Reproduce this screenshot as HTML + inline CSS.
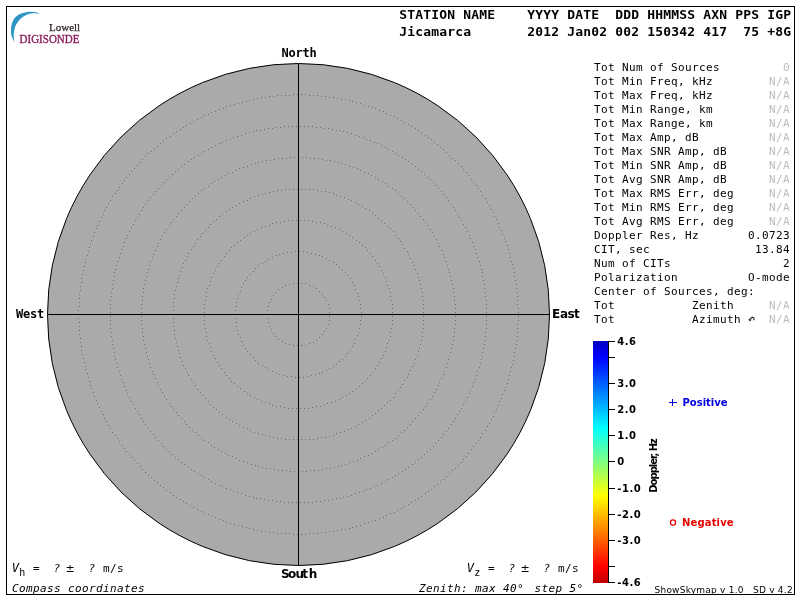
<!DOCTYPE html>
<html><head><meta charset="utf-8"><title>Skymap</title>
<style>
html,body{margin:0;padding:0;background:#fff;}
svg{display:block}
text{white-space:pre}
.mono{font-family:"DejaVu Sans Mono","Liberation Mono",monospace;font-size:11px;letter-spacing:0.378px;fill:#000}
.hdr{font-family:"DejaVu Sans Mono","Liberation Mono",monospace;font-weight:bold;font-size:13px;letter-spacing:0.174px;fill:#000}
.g{fill:#bcbcbc}
.it{font-style:italic}
.pm{font-family:"DejaVu Sans","Liberation Sans",sans-serif;letter-spacing:0}
.cmp{font-family:"DejaVu Sans Mono","Liberation Mono",monospace;font-weight:bold;font-size:12px;letter-spacing:-0.22px;fill:#000}
.cmps{font-family:"DejaVu Sans","Liberation Sans",sans-serif;font-weight:bold;font-size:12px;fill:#000}
.tk text{font-family:"DejaVu Sans","Liberation Sans",sans-serif;font-weight:bold;font-size:10px;fill:#000;letter-spacing:0.5px}
.tk line{stroke:#000;stroke-width:1}
.lg{font-family:"DejaVu Sans","Liberation Sans",sans-serif;font-weight:bold;font-size:10px}
.ver{font-family:"DejaVu Sans","Liberation Sans",sans-serif;font-size:9px;fill:#000;letter-spacing:0.23px}
.logo{font-family:"Liberation Serif",serif;font-size:11px}
</style></head>
<body>
<svg width="800" height="600" viewBox="0 0 800 600">
<defs>
<linearGradient id="jet" x1="0" y1="0" x2="0" y2="1">
<stop offset="0" stop-color="#0000c0"/>
<stop offset="0.066" stop-color="#0000ff"/>
<stop offset="0.36" stop-color="#00ffff"/>
<stop offset="0.5" stop-color="#80ff80"/>
<stop offset="0.64" stop-color="#ffff00"/>
<stop offset="0.934" stop-color="#ff0000"/>
<stop offset="1" stop-color="#c00000"/>
</linearGradient>
</defs>
<rect x="0" y="0" width="800" height="600" fill="#fff"/>
<rect x="6.5" y="6.5" width="788" height="588" fill="none" stroke="#000" stroke-width="1" shape-rendering="crispEdges"/>

<!-- logo -->
<path d="M14.3,42.5 C13.9,41.4 12.2,38.1 11.6,36.0 C11.0,33.9 10.9,32.1 11.0,30.0 C11.1,27.9 11.3,25.4 12.0,23.3 C12.7,21.2 13.9,18.9 15.3,17.3 C16.8,15.7 18.7,14.6 20.7,13.7 C22.7,12.8 25.0,12.2 27.3,11.9 C29.6,11.6 32.7,11.8 34.7,12.1 C36.7,12.4 38.5,13.4 39.2,13.7 C38.1,13.6 34.8,13.0 32.7,13.2 C30.6,13.4 28.6,13.9 26.7,14.7 C24.8,15.5 22.9,16.7 21.3,18.0 C19.7,19.3 18.4,21.0 17.3,22.7 C16.2,24.4 15.3,26.0 14.7,28.0 C14.1,30.0 13.8,32.3 13.7,34.7 C13.6,37.1 14.2,41.2 14.3,42.5 Z" fill="#2f95c4"/>
<text class="logo" x="49" y="30.5" fill="#33252f" stroke="#33252f" stroke-width="0.25">Lowell</text>
<text class="logo" transform="translate(19.6,43.3) scale(1,1.1)" fill="#8c2360" stroke="#8c2360" stroke-width="0.35">DIGISONDE</text>

<!-- header -->
<text class="hdr" x="399.3" y="19">STATION NAME    YYYY DATE  DDD HHMMSS AXN PPS IGP</text>
<text class="hdr" x="399.3" y="35.5">Jicamarca       2012 Jan02 002 150342 417  75 +8G</text>

<!-- sky map -->
<circle cx="298.5" cy="314.5" r="251" fill="#aaaaaa" stroke="#000" stroke-width="1"/>
<g fill="none" stroke="#6c6c6c" stroke-width="1" shape-rendering="crispEdges"><path d="M329 312.5h1M329 308.5h1M328 304.5h1M326 300.5h1M324 297.5h1M322 294.5h1M319 291.5h1M316 288.5h1M313 286.5h1M309 285.5h1M305 283.5h1M301 283.5h1M297 283.5h1M293 283.5h1M289 284.5h1M285 285.5h1M282 287.5h1M278 289.5h1M275 292.5h1M273 295.5h1M271 299.5h1M269 302.5h1M268 306.5h1M267 310.5h1M267 314.5h1M267 318.5h1M268 322.5h1M269 326.5h1M271 329.5h1M273 333.5h1M275 336.5h1M278 339.5h1M282 341.5h1M285 343.5h1M289 344.5h1M293 345.5h1M297 345.5h1M301 345.5h1M305 345.5h1M309 343.5h1M313 342.5h1M316 340.5h1M319 337.5h1M322 334.5h1M324 331.5h1M326 328.5h1M328 324.5h1M329 320.5h1M329 316.5h1M361 312.5h1M360 308.5h1M360 304.5h1M359 300.5h1M358 296.5h1M357 293.5h1M355 289.5h1M354 285.5h1M352 282.5h1M350 278.5h1M347 275.5h1M345 272.5h1M342 269.5h1M339 267.5h1M336 264.5h1M333 262.5h1M329 260.5h1M326 258.5h1M322 256.5h1M319 255.5h1M315 254.5h1M311 253.5h1M307 252.5h1M303 251.5h1M299 251.5h1M295 251.5h1M291 252.5h1M287 252.5h1M283 253.5h1M279 254.5h1M276 255.5h1M272 257.5h1M268 259.5h1M265 261.5h1M262 263.5h1M258 265.5h1M255 268.5h1M253 271.5h1M250 274.5h1M247 277.5h1M245 280.5h1M243 283.5h1M241 287.5h1M240 291.5h1M238 294.5h1M237 298.5h1M236 302.5h1M236 306.5h1M235 310.5h1M235 314.5h1M235 318.5h1M236 322.5h1M236 326.5h1M237 330.5h1M238 334.5h1M240 337.5h1M241 341.5h1M243 345.5h1M245 348.5h1M247 351.5h1M250 354.5h1M253 357.5h1M255 360.5h1M258 363.5h1M262 365.5h1M265 367.5h1M268 369.5h1M272 371.5h1M276 373.5h1M279 374.5h1M283 375.5h1M287 376.5h1M291 376.5h1M295 377.5h1M299 377.5h1M303 377.5h1M307 376.5h1M311 375.5h1M315 374.5h1M319 373.5h1M322 372.5h1M326 370.5h1M329 368.5h1M333 366.5h1M336 364.5h1M339 361.5h1M342 359.5h1M345 356.5h1M347 353.5h1M350 350.5h1M352 346.5h1M354 343.5h1M355 339.5h1M357 335.5h1M358 332.5h1M359 328.5h1M360 324.5h1M360 320.5h1M361 316.5h1M392 312.5h1M392 308.5h1M392 304.5h1M391 300.5h1M390 296.5h1M390 292.5h1M389 288.5h1M387 285.5h1M386 281.5h1M385 277.5h1M383 273.5h1M381 270.5h1M379 266.5h1M377 263.5h1M375 260.5h1M372 256.5h1M370 253.5h1M367 250.5h1M365 247.5h1M362 245.5h1M359 242.5h1M356 240.5h1M352 237.5h1M349 235.5h1M346 233.5h1M342 231.5h1M339 229.5h1M335 227.5h1M331 226.5h1M327 225.5h1M324 223.5h1M320 222.5h1M316 222.5h1M312 221.5h1M308 220.5h1M304 220.5h1M300 220.5h1M296 220.5h1M292 220.5h1M288 220.5h1M284 221.5h1M280 222.5h1M276 222.5h1M272 223.5h1M269 225.5h1M265 226.5h1M261 227.5h1M257 229.5h1M254 231.5h1M250 233.5h1M247 235.5h1M244 237.5h1M240 240.5h1M237 242.5h1M234 245.5h1M231 247.5h1M229 250.5h1M226 253.5h1M224 256.5h1M221 260.5h1M219 263.5h1M217 266.5h1M215 270.5h1M213 273.5h1M211 277.5h1M210 281.5h1M209 285.5h1M207 288.5h1M206 292.5h1M206 296.5h1M205 300.5h1M204 304.5h1M204 308.5h1M204 312.5h1M204 316.5h1M204 320.5h1M204 324.5h1M205 328.5h1M206 332.5h1M206 336.5h1M207 340.5h1M209 343.5h1M210 347.5h1M211 351.5h1M213 355.5h1M215 358.5h1M217 362.5h1M219 365.5h1M221 368.5h1M224 372.5h1M226 375.5h1M229 378.5h1M231 381.5h1M234 383.5h1M237 386.5h1M240 388.5h1M244 391.5h1M247 393.5h1M250 395.5h1M254 397.5h1M257 399.5h1M261 401.5h1M265 402.5h1M269 403.5h1M272 405.5h1M276 406.5h1M280 406.5h1M284 407.5h1M288 408.5h1M292 408.5h1M296 408.5h1M300 408.5h1M304 408.5h1M308 408.5h1M312 407.5h1M316 406.5h1M320 406.5h1M324 405.5h1M327 403.5h1M331 402.5h1M335 401.5h1M339 399.5h1M342 397.5h1M346 395.5h1M349 393.5h1M352 391.5h1M356 388.5h1M359 386.5h1M362 383.5h1M365 381.5h1M367 378.5h1M370 375.5h1M372 372.5h1M375 368.5h1M377 365.5h1M379 362.5h1M381 358.5h1M383 355.5h1M385 351.5h1M386 347.5h1M387 343.5h1M389 340.5h1M390 336.5h1M390 332.5h1M391 328.5h1M392 324.5h1M392 320.5h1M392 316.5h1M423 312.5h1M423 308.5h1M423 304.5h1M423 300.5h1M422 296.5h1M422 292.5h1M421 288.5h1M420 284.5h1M419 280.5h1M418 277.5h1M417 273.5h1M415 269.5h1M414 265.5h1M412 262.5h1M410 258.5h1M408 254.5h1M407 251.5h1M404 248.5h1M402 244.5h1M400 241.5h1M398 238.5h1M395 235.5h1M393 231.5h1M390 228.5h1M387 226.5h1M384 223.5h1M381 220.5h1M378 218.5h1M375 215.5h1M372 213.5h1M369 210.5h1M365 208.5h1M362 206.5h1M358 204.5h1M355 202.5h1M351 200.5h1M348 199.5h1M344 197.5h1M340 196.5h1M336 195.5h1M333 193.5h1M329 192.5h1M325 191.5h1M321 191.5h1M317 190.5h1M313 189.5h1M309 189.5h1M305 189.5h1M301 189.5h1M297 189.5h1M293 189.5h1M289 189.5h1M285 189.5h1M281 190.5h1M277 190.5h1M273 191.5h1M269 192.5h1M265 193.5h1M262 194.5h1M258 195.5h1M254 196.5h1M250 198.5h1M247 200.5h1M243 201.5h1M239 203.5h1M236 205.5h1M232 207.5h1M229 209.5h1M226 211.5h1M222 214.5h1M219 216.5h1M216 219.5h1M213 221.5h1M210 224.5h1M208 227.5h1M205 230.5h1M202 233.5h1M200 236.5h1M197 239.5h1M195 243.5h1M193 246.5h1M191 249.5h1M188 253.5h1M187 256.5h1M185 260.5h1M183 263.5h1M182 267.5h1M180 271.5h1M179 275.5h1M178 278.5h1M177 282.5h1M176 286.5h1M175 290.5h1M174 294.5h1M174 298.5h1M173 302.5h1M173 306.5h1M173 310.5h1M173 314.5h1M173 318.5h1M173 322.5h1M173 326.5h1M174 330.5h1M174 334.5h1M175 338.5h1M176 342.5h1M177 346.5h1M178 350.5h1M179 353.5h1M180 357.5h1M182 361.5h1M183 365.5h1M185 368.5h1M187 372.5h1M188 375.5h1M191 379.5h1M193 382.5h1M195 385.5h1M197 389.5h1M200 392.5h1M202 395.5h1M205 398.5h1M208 401.5h1M210 404.5h1M213 407.5h1M216 409.5h1M219 412.5h1M222 414.5h1M226 417.5h1M229 419.5h1M232 421.5h1M236 423.5h1M239 425.5h1M243 427.5h1M247 428.5h1M250 430.5h1M254 432.5h1M258 433.5h1M262 434.5h1M265 435.5h1M269 436.5h1M273 437.5h1M277 438.5h1M281 438.5h1M285 439.5h1M289 439.5h1M293 439.5h1M297 439.5h1M301 439.5h1M305 439.5h1M309 439.5h1M313 439.5h1M317 438.5h1M321 437.5h1M325 437.5h1M329 436.5h1M333 435.5h1M336 433.5h1M340 432.5h1M344 431.5h1M348 429.5h1M351 428.5h1M355 426.5h1M358 424.5h1M362 422.5h1M365 420.5h1M369 418.5h1M372 415.5h1M375 413.5h1M378 410.5h1M381 408.5h1M384 405.5h1M387 402.5h1M390 400.5h1M393 397.5h1M395 393.5h1M398 390.5h1M400 387.5h1M402 384.5h1M404 380.5h1M407 377.5h1M408 374.5h1M410 370.5h1M412 366.5h1M414 363.5h1M415 359.5h1M417 355.5h1M418 351.5h1M419 348.5h1M420 344.5h1M421 340.5h1M422 336.5h1M422 332.5h1M423 328.5h1M423 324.5h1M423 320.5h1M423 316.5h1M455 312.5h1M455 308.5h1M455 304.5h1M454 300.5h1M454 296.5h1M453 292.5h1M453 288.5h1M452 284.5h1M451 280.5h1M450 276.5h1M449 272.5h1M448 269.5h1M447 265.5h1M446 261.5h1M444 257.5h1M443 254.5h1M441 250.5h1M439 246.5h1M438 243.5h1M436 239.5h1M434 236.5h1M432 232.5h1M430 229.5h1M427 225.5h1M425 222.5h1M423 219.5h1M420 216.5h1M418 213.5h1M415 210.5h1M412 207.5h1M410 204.5h1M407 201.5h1M404 198.5h1M401 196.5h1M398 193.5h1M395 190.5h1M392 188.5h1M388 186.5h1M385 183.5h1M382 181.5h1M378 179.5h1M375 177.5h1M371 175.5h1M368 173.5h1M364 172.5h1M360 170.5h1M357 168.5h1M353 167.5h1M349 166.5h1M345 164.5h1M341 163.5h1M338 162.5h1M334 161.5h1M330 160.5h1M326 160.5h1M322 159.5h1M318 158.5h1M314 158.5h1M310 158.5h1M306 157.5h1M302 157.5h1M298 157.5h1M294 157.5h1M290 157.5h1M286 158.5h1M282 158.5h1M278 158.5h1M274 159.5h1M270 160.5h1M266 160.5h1M262 161.5h1M258 162.5h1M255 163.5h1M251 164.5h1M247 166.5h1M243 167.5h1M239 168.5h1M236 170.5h1M232 172.5h1M228 173.5h1M225 175.5h1M221 177.5h1M218 179.5h1M214 181.5h1M211 183.5h1M208 186.5h1M204 188.5h1M201 190.5h1M198 193.5h1M195 196.5h1M192 198.5h1M189 201.5h1M186 204.5h1M184 207.5h1M181 210.5h1M178 213.5h1M176 216.5h1M173 219.5h1M171 222.5h1M169 225.5h1M166 229.5h1M164 232.5h1M162 236.5h1M160 239.5h1M158 243.5h1M157 246.5h1M155 250.5h1M153 254.5h1M152 257.5h1M150 261.5h1M149 265.5h1M148 269.5h1M147 272.5h1M146 276.5h1M145 280.5h1M144 284.5h1M143 288.5h1M143 292.5h1M142 296.5h1M142 300.5h1M141 304.5h1M141 308.5h1M141 312.5h1M141 316.5h1M141 320.5h1M141 324.5h1M142 328.5h1M142 332.5h1M143 336.5h1M143 340.5h1M144 344.5h1M145 348.5h1M146 352.5h1M147 356.5h1M148 359.5h1M149 363.5h1M150 367.5h1M152 371.5h1M153 374.5h1M155 378.5h1M157 382.5h1M158 385.5h1M160 389.5h1M162 392.5h1M164 396.5h1M166 399.5h1M169 403.5h1M171 406.5h1M173 409.5h1M176 412.5h1M178 415.5h1M181 418.5h1M184 421.5h1M186 424.5h1M189 427.5h1M192 430.5h1M195 432.5h1M198 435.5h1M201 438.5h1M204 440.5h1M208 442.5h1M211 445.5h1M214 447.5h1M218 449.5h1M221 451.5h1M225 453.5h1M228 455.5h1M232 456.5h1M236 458.5h1M239 460.5h1M243 461.5h1M247 462.5h1M251 464.5h1M255 465.5h1M258 466.5h1M262 467.5h1M266 468.5h1M270 468.5h1M274 469.5h1M278 470.5h1M282 470.5h1M286 470.5h1M290 471.5h1M294 471.5h1M298 471.5h1M302 471.5h1M306 471.5h1M310 470.5h1M314 470.5h1M318 470.5h1M322 469.5h1M326 468.5h1M330 468.5h1M334 467.5h1M338 466.5h1M341 465.5h1M345 464.5h1M349 462.5h1M353 461.5h1M357 460.5h1M360 458.5h1M364 456.5h1M368 455.5h1M371 453.5h1M375 451.5h1M378 449.5h1M382 447.5h1M385 445.5h1M388 442.5h1M392 440.5h1M395 438.5h1M398 435.5h1M401 432.5h1M404 430.5h1M407 427.5h1M410 424.5h1M412 421.5h1M415 418.5h1M418 415.5h1M420 412.5h1M423 409.5h1M425 406.5h1M427 403.5h1M430 399.5h1M432 396.5h1M434 392.5h1M436 389.5h1M438 385.5h1M439 382.5h1M441 378.5h1M443 374.5h1M444 371.5h1M446 367.5h1M447 363.5h1M448 359.5h1M449 356.5h1M450 352.5h1M451 348.5h1M452 344.5h1M453 340.5h1M453 336.5h1M454 332.5h1M454 328.5h1M455 324.5h1M455 320.5h1M455 316.5h1M486 312.5h1M486 308.5h1M486 304.5h1M486 300.5h1M485 296.5h1M485 292.5h1M484 288.5h1M484 284.5h1M483 280.5h1M482 276.5h1M482 272.5h1M481 269.5h1M480 265.5h1M479 261.5h1M477 257.5h1M476 253.5h1M475 249.5h1M473 246.5h1M472 242.5h1M470 238.5h1M469 235.5h1M467 231.5h1M465 227.5h1M463 224.5h1M461 220.5h1M459 217.5h1M457 214.5h1M455 210.5h1M453 207.5h1M451 204.5h1M448 200.5h1M446 197.5h1M443 194.5h1M441 191.5h1M438 188.5h1M435 185.5h1M433 182.5h1M430 179.5h1M427 177.5h1M424 174.5h1M421 171.5h1M418 169.5h1M415 166.5h1M412 164.5h1M408 161.5h1M405 159.5h1M402 157.5h1M398 155.5h1M395 153.5h1M392 151.5h1M388 149.5h1M385 147.5h1M381 145.5h1M377 143.5h1M374 142.5h1M370 140.5h1M366 139.5h1M363 137.5h1M359 136.5h1M355 135.5h1M351 133.5h1M347 132.5h1M343 131.5h1M340 130.5h1M336 130.5h1M332 129.5h1M328 128.5h1M324 128.5h1M320 127.5h1M316 127.5h1M312 126.5h1M308 126.5h1M304 126.5h1M300 126.5h1M296 126.5h1M292 126.5h1M288 126.5h1M284 126.5h1M280 127.5h1M276 127.5h1M272 128.5h1M268 128.5h1M264 129.5h1M260 130.5h1M256 130.5h1M253 131.5h1M249 132.5h1M245 133.5h1M241 135.5h1M237 136.5h1M233 137.5h1M230 139.5h1M226 140.5h1M222 142.5h1M219 143.5h1M215 145.5h1M211 147.5h1M208 149.5h1M204 151.5h1M201 153.5h1M198 155.5h1M194 157.5h1M191 159.5h1M188 161.5h1M184 164.5h1M181 166.5h1M178 169.5h1M175 171.5h1M172 174.5h1M169 177.5h1M166 179.5h1M163 182.5h1M161 185.5h1M158 188.5h1M155 191.5h1M153 194.5h1M150 197.5h1M148 200.5h1M145 204.5h1M143 207.5h1M141 210.5h1M139 214.5h1M137 217.5h1M135 220.5h1M133 224.5h1M131 227.5h1M129 231.5h1M127 235.5h1M126 238.5h1M124 242.5h1M123 246.5h1M121 249.5h1M120 253.5h1M119 257.5h1M117 261.5h1M116 265.5h1M115 269.5h1M114 272.5h1M114 276.5h1M113 280.5h1M112 284.5h1M112 288.5h1M111 292.5h1M111 296.5h1M110 300.5h1M110 304.5h1M110 308.5h1M110 312.5h1M110 316.5h1M110 320.5h1M110 324.5h1M110 328.5h1M111 332.5h1M111 336.5h1M112 340.5h1M112 344.5h1M113 348.5h1M114 352.5h1M114 356.5h1M115 359.5h1M116 363.5h1M117 367.5h1M119 371.5h1M120 375.5h1M121 379.5h1M123 382.5h1M124 386.5h1M126 390.5h1M127 393.5h1M129 397.5h1M131 401.5h1M133 404.5h1M135 408.5h1M137 411.5h1M139 414.5h1M141 418.5h1M143 421.5h1M145 424.5h1M148 428.5h1M150 431.5h1M153 434.5h1M155 437.5h1M158 440.5h1M161 443.5h1M163 446.5h1M166 449.5h1M169 451.5h1M172 454.5h1M175 457.5h1M178 459.5h1M181 462.5h1M184 464.5h1M188 467.5h1M191 469.5h1M194 471.5h1M198 473.5h1M201 475.5h1M204 477.5h1M208 479.5h1M211 481.5h1M215 483.5h1M219 485.5h1M222 486.5h1M226 488.5h1M230 489.5h1M233 491.5h1M237 492.5h1M241 493.5h1M245 495.5h1M249 496.5h1M253 497.5h1M256 498.5h1M260 498.5h1M264 499.5h1M268 500.5h1M272 500.5h1M276 501.5h1M280 501.5h1M284 502.5h1M288 502.5h1M292 502.5h1M296 502.5h1M300 502.5h1M304 502.5h1M308 502.5h1M312 502.5h1M316 501.5h1M320 501.5h1M324 500.5h1M328 500.5h1M332 499.5h1M336 498.5h1M340 498.5h1M343 497.5h1M347 496.5h1M351 495.5h1M355 493.5h1M359 492.5h1M363 491.5h1M366 489.5h1M370 488.5h1M374 486.5h1M377 485.5h1M381 483.5h1M385 481.5h1M388 479.5h1M392 477.5h1M395 475.5h1M398 473.5h1M402 471.5h1M405 469.5h1M408 467.5h1M412 464.5h1M415 462.5h1M418 459.5h1M421 457.5h1M424 454.5h1M427 451.5h1M430 449.5h1M433 446.5h1M435 443.5h1M438 440.5h1M441 437.5h1M443 434.5h1M446 431.5h1M448 428.5h1M451 424.5h1M453 421.5h1M455 418.5h1M457 414.5h1M459 411.5h1M461 408.5h1M463 404.5h1M465 401.5h1M467 397.5h1M469 393.5h1M470 390.5h1M472 386.5h1M473 382.5h1M475 379.5h1M476 375.5h1M477 371.5h1M479 367.5h1M480 363.5h1M481 359.5h1M482 356.5h1M482 352.5h1M483 348.5h1M484 344.5h1M484 340.5h1M485 336.5h1M485 332.5h1M486 328.5h1M486 324.5h1M486 320.5h1M486 316.5h1M518 312.5h1M518 308.5h1M517 304.5h1M517 300.5h1M517 296.5h1M517 292.5h1M516 288.5h1M516 284.5h1M515 280.5h1M514 276.5h1M514 272.5h1M513 268.5h1M512 264.5h1M511 261.5h1M510 257.5h1M509 253.5h1M508 249.5h1M507 245.5h1M505 241.5h1M504 238.5h1M502 234.5h1M501 230.5h1M499 227.5h1M498 223.5h1M496 219.5h1M494 216.5h1M493 212.5h1M491 209.5h1M489 205.5h1M487 202.5h1M485 198.5h1M482 195.5h1M480 191.5h1M478 188.5h1M476 185.5h1M473 182.5h1M471 179.5h1M468 175.5h1M466 172.5h1M463 169.5h1M461 166.5h1M458 163.5h1M455 160.5h1M452 158.5h1M449 155.5h1M446 152.5h1M443 149.5h1M440 147.5h1M437 144.5h1M434 142.5h1M431 139.5h1M428 137.5h1M425 135.5h1M421 132.5h1M418 130.5h1M415 128.5h1M411 126.5h1M408 124.5h1M404 122.5h1M401 120.5h1M397 118.5h1M394 116.5h1M390 115.5h1M386 113.5h1M383 111.5h1M379 110.5h1M375 108.5h1M372 107.5h1M368 106.5h1M364 105.5h1M360 103.5h1M356 102.5h1M352 101.5h1M349 100.5h1M345 99.5h1M341 99.5h1M337 98.5h1M333 97.5h1M329 97.5h1M325 96.5h1M321 96.5h1M317 95.5h1M313 95.5h1M309 95.5h1M305 94.5h1M301 94.5h1M297 94.5h1M293 94.5h1M289 95.5h1M285 95.5h1M281 95.5h1M277 95.5h1M273 96.5h1M269 96.5h1M265 97.5h1M261 97.5h1M257 98.5h1M253 99.5h1M249 100.5h1M246 101.5h1M242 102.5h1M238 103.5h1M234 104.5h1M230 105.5h1M226 106.5h1M223 108.5h1M219 109.5h1M215 111.5h1M211 112.5h1M208 114.5h1M204 115.5h1M201 117.5h1M197 119.5h1M193 121.5h1M190 123.5h1M186 125.5h1M183 127.5h1M180 129.5h1M176 131.5h1M173 133.5h1M170 136.5h1M166 138.5h1M163 141.5h1M160 143.5h1M157 146.5h1M154 148.5h1M151 151.5h1M148 153.5h1M145 156.5h1M142 159.5h1M140 162.5h1M137 165.5h1M134 168.5h1M131 171.5h1M129 174.5h1M126 177.5h1M124 180.5h1M122 183.5h1M119 187.5h1M117 190.5h1M115 193.5h1M112 196.5h1M110 200.5h1M108 203.5h1M106 207.5h1M104 210.5h1M103 214.5h1M101 217.5h1M99 221.5h1M97 225.5h1M96 228.5h1M94 232.5h1M93 236.5h1M91 240.5h1M90 243.5h1M89 247.5h1M88 251.5h1M87 255.5h1M85 259.5h1M85 262.5h1M84 266.5h1M83 270.5h1M82 274.5h1M81 278.5h1M81 282.5h1M80 286.5h1M80 290.5h1M79 294.5h1M79 298.5h1M79 302.5h1M79 306.5h1M78 310.5h1M78 314.5h1M78 318.5h1M79 322.5h1M79 326.5h1M79 330.5h1M79 334.5h1M80 338.5h1M80 342.5h1M81 346.5h1M81 350.5h1M82 354.5h1M83 358.5h1M84 362.5h1M85 366.5h1M85 369.5h1M87 373.5h1M88 377.5h1M89 381.5h1M90 385.5h1M91 388.5h1M93 392.5h1M94 396.5h1M96 400.5h1M97 403.5h1M99 407.5h1M101 411.5h1M103 414.5h1M104 418.5h1M106 421.5h1M108 425.5h1M110 428.5h1M112 432.5h1M115 435.5h1M117 438.5h1M119 441.5h1M122 445.5h1M124 448.5h1M126 451.5h1M129 454.5h1M131 457.5h1M134 460.5h1M137 463.5h1M140 466.5h1M142 469.5h1M145 472.5h1M148 475.5h1M151 477.5h1M154 480.5h1M157 482.5h1M160 485.5h1M163 487.5h1M166 490.5h1M170 492.5h1M173 495.5h1M176 497.5h1M180 499.5h1M183 501.5h1M186 503.5h1M190 505.5h1M193 507.5h1M197 509.5h1M201 511.5h1M204 513.5h1M208 514.5h1M211 516.5h1M215 517.5h1M219 519.5h1M223 520.5h1M226 522.5h1M230 523.5h1M234 524.5h1M238 525.5h1M242 526.5h1M246 527.5h1M249 528.5h1M253 529.5h1M257 530.5h1M261 531.5h1M265 531.5h1M269 532.5h1M273 532.5h1M277 533.5h1M281 533.5h1M285 533.5h1M289 533.5h1M293 534.5h1M297 534.5h1M301 534.5h1M305 534.5h1M309 533.5h1M313 533.5h1M317 533.5h1M321 532.5h1M325 532.5h1M329 531.5h1M333 531.5h1M337 530.5h1M341 529.5h1M345 529.5h1M349 528.5h1M352 527.5h1M356 526.5h1M360 525.5h1M364 523.5h1M368 522.5h1M372 521.5h1M375 520.5h1M379 518.5h1M383 517.5h1M386 515.5h1M390 513.5h1M394 512.5h1M397 510.5h1M401 508.5h1M404 506.5h1M408 504.5h1M411 502.5h1M415 500.5h1M418 498.5h1M421 496.5h1M425 493.5h1M428 491.5h1M431 489.5h1M434 486.5h1M437 484.5h1M440 481.5h1M443 479.5h1M446 476.5h1M449 473.5h1M452 470.5h1M455 468.5h1M458 465.5h1M461 462.5h1M463 459.5h1M466 456.5h1M468 453.5h1M471 449.5h1M473 446.5h1M476 443.5h1M478 440.5h1M480 437.5h1M482 433.5h1M485 430.5h1M487 426.5h1M489 423.5h1M491 419.5h1M493 416.5h1M494 412.5h1M496 409.5h1M498 405.5h1M499 401.5h1M501 398.5h1M502 394.5h1M504 390.5h1M505 387.5h1M507 383.5h1M508 379.5h1M509 375.5h1M510 371.5h1M511 367.5h1M512 364.5h1M513 360.5h1M514 356.5h1M514 352.5h1M515 348.5h1M516 344.5h1M516 340.5h1M517 336.5h1M517 332.5h1M517 328.5h1M517 324.5h1M518 320.5h1M518 316.5h1"/></g>
<g stroke="#000" stroke-width="1" shape-rendering="crispEdges">
<line x1="298.5" x2="298.5" y1="63.5" y2="565.5"/>
<line x1="47.5" x2="549.5" y1="314.5" y2="314.5"/>
</g>
<text class="cmp" x="281.5" y="57">North</text>
<text class="cmp" x="16" y="318">West</text>
<text class="cmps" x="552 559.9 567.5 574" y="318">East</text>
<text class="cmps" x="281 287.9 295.4 302.2 308.7" y="578">South</text>

<!-- right panel -->
<g class="mono">
<text x="594" y="71">Tot Num of Sources</text><text x="783" y="71" class="g">0</text>
<text x="594" y="85">Tot Min Freq, kHz</text><text x="769" y="85" class="g">N/A</text>
<text x="594" y="99">Tot Max Freq, kHz</text><text x="769" y="99" class="g">N/A</text>
<text x="594" y="113">Tot Min Range, km</text><text x="769" y="113" class="g">N/A</text>
<text x="594" y="127">Tot Max Range, km</text><text x="769" y="127" class="g">N/A</text>
<text x="594" y="141">Tot Max Amp, dB</text><text x="769" y="141" class="g">N/A</text>
<text x="594" y="155">Tot Max SNR Amp, dB</text><text x="769" y="155" class="g">N/A</text>
<text x="594" y="169">Tot Min SNR Amp, dB</text><text x="769" y="169" class="g">N/A</text>
<text x="594" y="183">Tot Avg SNR Amp, dB</text><text x="769" y="183" class="g">N/A</text>
<text x="594" y="197">Tot Max RMS Err, deg</text><text x="769" y="197" class="g">N/A</text>
<text x="594" y="211">Tot Min RMS Err, deg</text><text x="769" y="211" class="g">N/A</text>
<text x="594" y="225">Tot Avg RMS Err, deg</text><text x="769" y="225" class="g">N/A</text>
<text x="594" y="239">Doppler Res, Hz</text><text x="748" y="239">0.0723</text>
<text x="594" y="253">CIT, sec</text><text x="755" y="253">13.84</text>
<text x="594" y="267">Num of CITs</text><text x="783" y="267">2</text>
<text x="594" y="281">Polarization</text><text x="748" y="281">O-mode</text>
<text x="594" y="295">Center of Sources, deg:</text>
<text x="594" y="309">Tot           Zenith</text><text x="769" y="309" class="g">N/A</text>
<text x="594" y="323">Tot           Azimuth</text><text x="769" y="323" class="g">N/A</text>
</g>
<path d="M754,320.3 L754,318.6 C753.8,317.2 752,317 751,318 L749.6,319.8" fill="none" stroke="#222" stroke-width="1.1"/><path d="M748,319.2 L751.6,319.6 L750,321.4 Z" fill="#222"/>

<!-- colour bar -->
<rect x="593" y="341" width="15" height="242" fill="url(#jet)"/>
<line x1="608.5" x2="608.5" y1="341" y2="583" stroke="#000" stroke-width="1" shape-rendering="crispEdges"/>
<g class="tk" shape-rendering="crispEdges">
<line x1="609" x2="615" y1="341.5" y2="341.5"/><text x="617.3" y="345.0">4.6</text>
<line x1="609" x2="615" y1="357.5" y2="357.5"/>
<line x1="609" x2="615" y1="383.5" y2="383.5"/><text x="617.3" y="387.0">3.0</text>
<line x1="609" x2="615" y1="409.5" y2="409.5"/><text x="617.3" y="413.0">2.0</text>
<line x1="609" x2="615" y1="435.5" y2="435.5"/><text x="617.3" y="439.0">1.0</text>
<line x1="609" x2="615" y1="461.5" y2="461.5"/><text x="617.3" y="465.0">0</text>
<line x1="609" x2="615" y1="488.5" y2="488.5"/><text x="617.3" y="492.0">-1.0</text>
<line x1="609" x2="615" y1="514.5" y2="514.5"/><text x="617.3" y="518.0">-2.0</text>
<line x1="609" x2="615" y1="540.5" y2="540.5"/><text x="617.3" y="544.0">-3.0</text>
<line x1="609" x2="615" y1="566.5" y2="566.5"/>
<line x1="609" x2="615" y1="582.5" y2="582.5"/><text x="617.3" y="586.0">-4.6</text>
</g>
<text class="lg" fill="#000" transform="translate(657,492.7) rotate(-90)" style="letter-spacing:-1px">Doppler, Hz</text>
<g stroke="#0000e0" stroke-width="1" shape-rendering="crispEdges"><line x1="669" x2="677" y1="402.5" y2="402.5"/><line x1="672.5" x2="672.5" y1="399" y2="406"/></g>
<text class="lg" x="682.5" y="406" fill="#0000e0">Positive</text>
<circle cx="673" cy="522.5" r="2.6" fill="none" stroke="#e80000" stroke-width="1.25"/>
<text class="lg" x="682" y="526" fill="#e80000" style="letter-spacing:0.15px">Negative</text>

<!-- bottom texts -->
<g class="mono">
<text x="11.8" y="572" class="it" style="font-size:12px">V</text><text x="19.3" y="576" style="font-size:10px">h</text><text x="33" y="572">=</text><text x="53.4" y="572" class="it">?</text><text x="65.6" y="572" class="pm">±</text><text x="88.5" y="572" class="it">?</text><text x="103" y="572">m/s</text>
<text x="12" y="592" class="it">Compass coordinates</text>
<text x="466.8" y="572" class="it" style="font-size:12px">V</text><text x="474.3" y="576" style="font-size:10px">z</text><text x="488" y="572">=</text><text x="508.4" y="572" class="it">?</text><text x="520.6" y="572" class="pm">±</text><text x="543.5" y="572" class="it">?</text><text x="558" y="572">m/s</text>
<text y="592" class="it"><tspan x="419">Zenith: max 40° </tspan><tspan x="527.6"> step 5°</tspan></text>
</g>
<text class="ver" x="654.5" y="593">ShowSkymap v 1.0   SD v 4.2</text>
</svg>
</body></html>
